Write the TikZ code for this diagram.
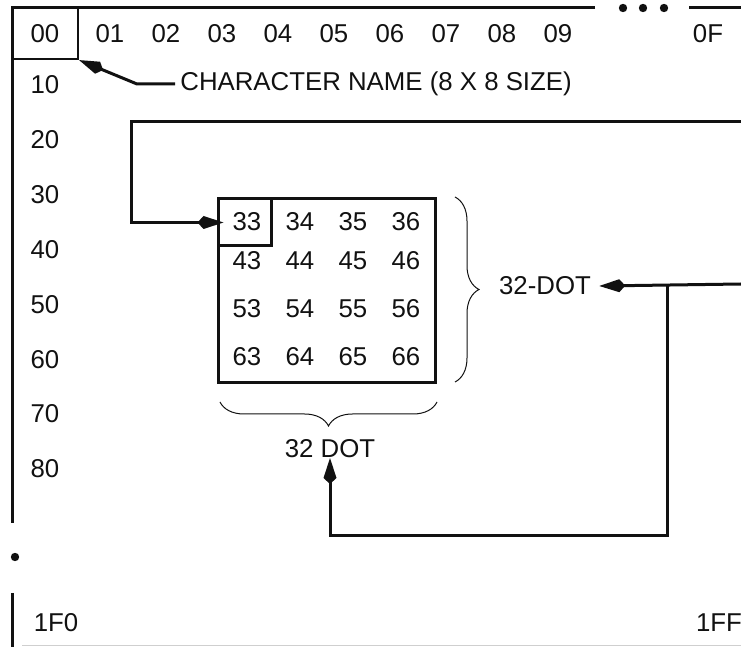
\documentclass[tikz,border=0pt]{standalone}
\usepackage{fontspec}
\setmainfont{Liberation Sans}
\usetikzlibrary{arrows.meta,positioning,decorations.pathreplacing}
\definecolor{ink}{HTML}{111111}
\definecolor{scan}{HTML}{CFCFCF}
\tikzset{
  lbl/.style={inner sep=0pt,font=\fontsize{12.9}{15}\selectfont,text=ink},
  frame/.style={draw=ink,line width=1.5pt},
  cell/.style={draw=ink,line width=1.1pt,inner sep=0pt},
  blkbox/.style={draw=ink,line width=1.5pt,inner sep=0pt},
  flow/.style={-{Kite[length=13pt,width=6.5pt,inset=3pt]},line width=1.5pt,draw=ink},
  brc/.style={draw=ink,line width=0.5pt,decorate,decoration={brace,amplitude=12pt}},
}

\begin{document}
\begin{tikzpicture}[x=0.5pt,y=-0.5pt]
  \useasboundingbox (0,0) rectangle (741,647);
  % memory map frame
  \draw[frame] (595,8) -- (12,8) -- (12,523);
  \draw[frame] (689,8) -- (741,8);
  \draw[frame] (12,593) -- (12,647);
  \foreach \x in {623,643,664} \fill[ink] (\x,8) circle (2.1pt);
  \fill[ink] (15,557) circle (2.1pt);
  \draw[scan,line width=0.5pt] (22,646) -- (741,646);

  % column and row names
  \node[cell,lbl,minimum width=33pt,minimum height=25.5pt] (n00) at (45,33.5) {00};
  \foreach \c [count=\i] in {01,02,03,04,05,06,07,08,09}
    \node[lbl] (h\c) at ({110+56*(\i-1)},34) {\c};
  \node[lbl] (h0F) at (708,34) {0F};
  \foreach \r [count=\i] in {10,20,...,80}
    \node[lbl] (r\r) at (45,{85+54.85*(\i-1)}) {\r};
  \node[lbl] (r1F0) at (56,623) {1F0};
  \node[lbl] (r1FF) at (719,623) {1FF};

  \node[lbl,anchor=west,inner sep=2.5pt] (cname) at (175,84) {CHARACTER NAME (8 X 8 SIZE)};
  \coordinate (kn) at (137,84);
  \draw[flow] (cname.west) -- (kn) -- (n00.south east);

  % 32 x 32 dot block
  \node[blkbox,minimum width=108.5pt,minimum height=92pt] (blk) at (326.5,291) {};
  \node[blkbox,minimum width=26.5pt,minimum height=23.5pt] (sel) at (244.5,222.5) {};
  \foreach \r/\y in {3/222,4/261,5/309,6/357}
    \foreach \c/\x in {3/247,4/300,5/353,6/406}
      \node[lbl] (c\r\c) at (\x,\y) {\r\c};

  \draw[brc] (455,197) -- (455,382);
  \draw[brc] (437,402) -- (220,402);
  \node[lbl,inner sep=4pt] (dotr) at (545,286) {32-DOT};
  \node[lbl,anchor=south] (dotb) at (330,458) {32 DOT};

  \coordinate (re1) at (741,122);
  \coordinate (lp) at (131,122);
  \draw[flow,shorten >=-3.5pt] (re1) -- (lp) |- (sel.west);

  \coordinate (re2) at (741,284);
  \coordinate (jn) at (667,284);
  \coordinate (bl) at (330,536);
  \draw[flow] (re2) -- (dotr.east);
  \draw[flow] (jn) |- (bl) -- (dotb.south);
\end{tikzpicture}
\end{document}
